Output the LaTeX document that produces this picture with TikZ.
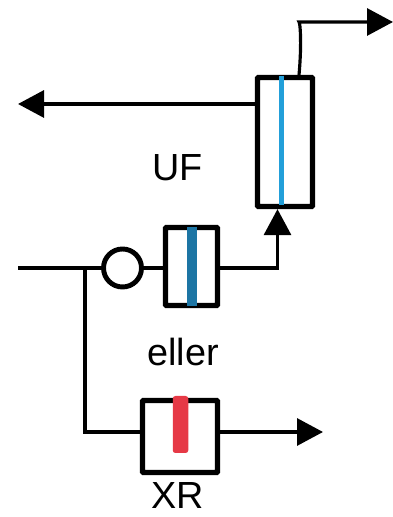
\documentclass[tikz,border=0pt]{standalone}
\usepackage{fontspec}
\setmainfont{Liberation Sans}
\usepackage{xcolor}
\usetikzlibrary{arrows.meta,positioning,calc}
\definecolor{barlight}{HTML}{229FD9}
\definecolor{bardark}{HTML}{1C75A4}
\definecolor{barred}{HTML}{E63946}
\tikzset{%
  unit/.style={draw,rounded corners=0.5pt,line width=3pt},
  bar/.style={inner sep=0pt,outer sep=0pt},
  flow/.style={line width=1.8pt},
  arrow/.style={flow,-{Triangle[length=5.2mm,width=5.4mm]}},
  tag/.style={font=\fontsize{21.5}{25}\selectfont,anchor=base,inner sep=0pt}%
}

\begin{document}
\begin{tikzpicture}
\useasboundingbox (0,0) rectangle (7.86,10.34);

% Units
\node[unit,minimum width=1.1cm,minimum height=2.58cm] (uf) at (5.70,7.50) {};
\node[unit,minimum width=1.04cm,minimum height=1.56cm] (eller) at (3.83,5.01) {};
\node[unit,minimum width=1.5cm,minimum height=1.44cm] (xr) at (3.60,1.61) {};
\node[draw,circle,line width=2.8pt,minimum size=0.76cm,inner sep=0pt] (pump) at (2.45,4.98) {};

% Bars inside the units
\node[bar,fill=barlight,minimum width=0.11cm,minimum height=2.58cm] (ufbar) at (5.63,7.53) {};
\node[bar,fill=bardark,minimum width=0.2cm,minimum height=1.58cm] (ellerbar) at (3.84,5.01) {};
\node[bar,fill=barred,rounded corners=1.5pt,minimum width=0.31cm,minimum height=1.14cm] (xrbar) at (3.61,1.85) {};

% Free ends
\coordinate (inlet) at (0.36,4.98);
\coordinate (branch) at (1.70,4.98);
\coordinate (toptip) at (7.86,9.90);
\coordinate (lefttip) at (0.36,8.26);
\coordinate (xrtip) at (6.46,1.70);

% Connectors
\draw[flow] (inlet) -- (pump.west);
\draw[flow] (pump.east) -- (eller.west |- pump);
\draw[flow] (branch) |- (xr.west |- xrtip);
\draw[arrow] (eller.east |- pump) -| (uf.south -| 5.55,0);
\draw[arrow] (uf.west |- lefttip) -- (lefttip);
\draw[arrow] (uf.north -| 5.98,0) .. controls (6.04,9.5) and (6.00,9.9) .. (5.98,9.90) -- (toptip);
\draw[arrow] (xr.east |- xrtip) -- (xrtip);

% Labels
\node[tag] (uflabel) at (3.55,6.72) {UF};
\node[tag] (ellerlabel) at (3.66,3.02) {eller};
\node[tag] (xrlabel) at (3.56,0.18) {XR};

\end{tikzpicture}
\end{document}
